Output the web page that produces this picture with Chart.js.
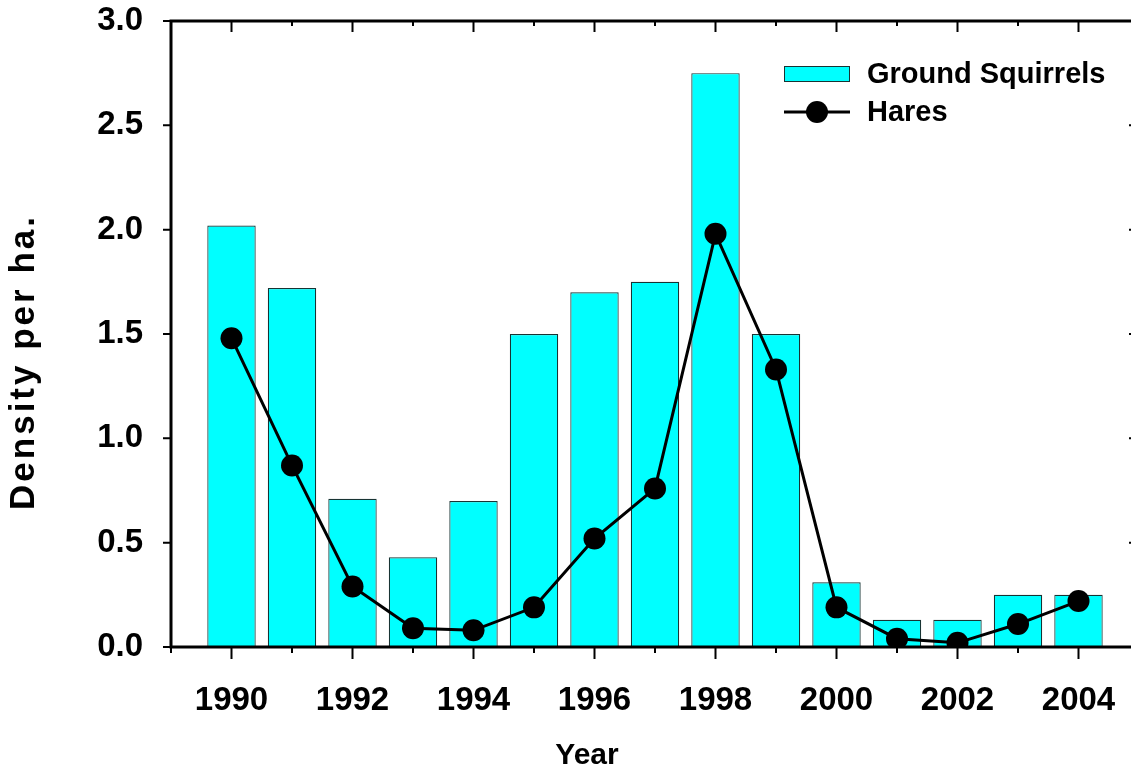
<!DOCTYPE html>
<html>
<head>
<meta charset="utf-8">
<script src="https://cdn.jsdelivr.net/npm/chart.js@4/dist/chart.umd.min.js"></script>
<style>
  html, body { margin: 0; padding: 0; background: #fff; overflow: hidden; }
</style>
</head>
<body>
<canvas id="densityChart" width="1150" height="769"></canvas>
<script>
const years = [1990, 1991, 1992, 1993, 1994, 1995, 1996, 1997, 1998, 1999, 2000, 2001, 2002, 2003, 2004];
const squirrels = [2.02, 1.72, 0.71, 0.43, 0.70, 1.50, 1.70, 1.75, 2.75, 1.50, 0.31, 0.13, 0.13, 0.25, 0.25];
const hares = [1.48, 0.87, 0.29, 0.09, 0.08, 0.19, 0.52, 0.76, 1.98, 1.33, 0.19, 0.04, 0.02, 0.11, 0.22];
const yTicks = [0, 0.5, 1.0, 1.5, 2.0, 2.5, 3.0];

const FONT = "'Liberation Sans', Arial, sans-serif";
const BAR_EDGE = '#183434';

// frame, ticks on all four sides, axis titles and the legend box
const framePlugin = {
    id: 'frame',
    afterDraw(chart) {
        const ctx = chart.ctx;
        const { left, right, top, bottom } = chart.chartArea;
        const x = chart.scales.x;
        const y = chart.scales.y;
        ctx.save();
        ctx.strokeStyle = '#000';
        ctx.lineWidth = 2;
        for (let v = 1989; v <= 2005; v++) {
            const px = x.getPixelForValue(v);
            const major = v % 2 === 0;
            ctx.beginPath();
            ctx.moveTo(px, bottom);
            ctx.lineTo(px, bottom + (major ? 12 : 6));
            ctx.moveTo(px, top);
            ctx.lineTo(px, top + (major ? 11 : 5));
            ctx.stroke();
        }
        yTicks.forEach(v => {
            const py = y.getPixelForValue(v);
            ctx.beginPath();
            ctx.moveTo(left, py);
            ctx.lineTo(left - 8, py);
            ctx.moveTo(right, py);
            ctx.lineTo(right - 10, py);
            ctx.stroke();
        });
        ctx.lineWidth = 3;
        ctx.strokeRect(left, top, right - left, bottom - top);

        // axis titles
        ctx.fillStyle = '#000';
        ctx.textAlign = 'center';
        ctx.textBaseline = 'middle';
        ctx.font = 'bold 30px ' + FONT;
        ctx.fillText('Year', 587, 756);
        ctx.save();
        ctx.translate(24, 364);
        ctx.rotate(-Math.PI / 2);
        ctx.font = 'bold 35px ' + FONT;
        ctx.letterSpacing = '3px';
        ctx.fillText('Density per ha.', 2, 0);
        ctx.restore();

        // legend
        const lx = 784, ly = 74;
        ctx.fillStyle = '#00ffff';
        ctx.fillRect(lx, ly - 8, 66, 16);
        ctx.lineWidth = 1;
        ctx.strokeStyle = BAR_EDGE;
        ctx.strokeRect(lx + 0.5, ly - 7.5, 65, 15);
        ctx.strokeStyle = '#000';
        ctx.lineWidth = 3;
        ctx.beginPath();
        ctx.moveTo(lx, ly + 38);
        ctx.lineTo(lx + 66, ly + 38);
        ctx.stroke();
        ctx.fillStyle = '#000';
        ctx.beginPath();
        ctx.arc(lx + 33, ly + 38, 11, 0, Math.PI * 2);
        ctx.fill();
        ctx.font = 'bold 29px ' + FONT;
        ctx.textBaseline = 'middle';
        ctx.textAlign = 'left';
        ctx.fillText('Ground Squirrels', 867, ly + 1);
        ctx.fillText('Hares', 867, ly + 39);
        ctx.restore();
    }
};

const ctx = document.getElementById('densityChart').getContext('2d');
const densityChart = new Chart(ctx, {
    type: 'bar',
    data: {
        datasets: [{
            type: 'line',
            label: 'Hares',
            data: years.map((yr, i) => ({ x: yr, y: hares[i] })),
            borderColor: '#000',
            borderWidth: 3,
            pointRadius: 11,
            pointBackgroundColor: '#000',
            pointBorderColor: '#000',
            pointBorderWidth: 0,
            tension: 0,
            order: 0
        }, {
            label: 'Ground Squirrels',
            data: years.map((yr, i) => ({ x: yr, y: squirrels[i] })),
            backgroundColor: '#00ffff',
            borderColor: BAR_EDGE,
            borderWidth: 1.2,
            barPercentage: 1,
            categoryPercentage: 0.8,
            order: 1
        }]
    },
    options: {
        responsive: false,
        animation: false,
        layout: { padding: { top: 21, right: 11, left: 0, bottom: 0 } },
        plugins: {
            legend: { display: false },
            tooltip: { enabled: false }
        },
        scales: {
            x: {
                type: 'linear',
                min: 1989,
                max: 2005,
                offset: false,
                grid: { display: true, offset: false, drawOnChartArea: false, tickLength: 34, tickColor: 'rgba(0,0,0,0)' },
                border: { display: false },
                ticks: {
                    stepSize: 1,
                    autoSkip: false,
                    maxRotation: 0,
                    padding: 0,
                    color: '#000',
                    font: { family: FONT, size: 33, weight: 'bold' },
                    callback: v => (v % 2 === 0 && v >= 1990 && v <= 2004) ? String(v) : ''
                },
                afterFit: scale => { scale.height = 122; }
            },
            y: {
                min: 0,
                max: 3,
                grid: { display: true, drawOnChartArea: false, tickLength: 28, tickColor: 'rgba(0,0,0,0)' },
                border: { display: false },
                ticks: {
                    stepSize: 0.5,
                    padding: 0,
                    color: '#000',
                    font: { family: FONT, size: 33, weight: 'bold' },
                    callback: v => v.toFixed(1)
                },
                afterFit: scale => { scale.width = 171; }
            }
        }
    },
    plugins: [framePlugin]
});
</script>
</body>
</html>
